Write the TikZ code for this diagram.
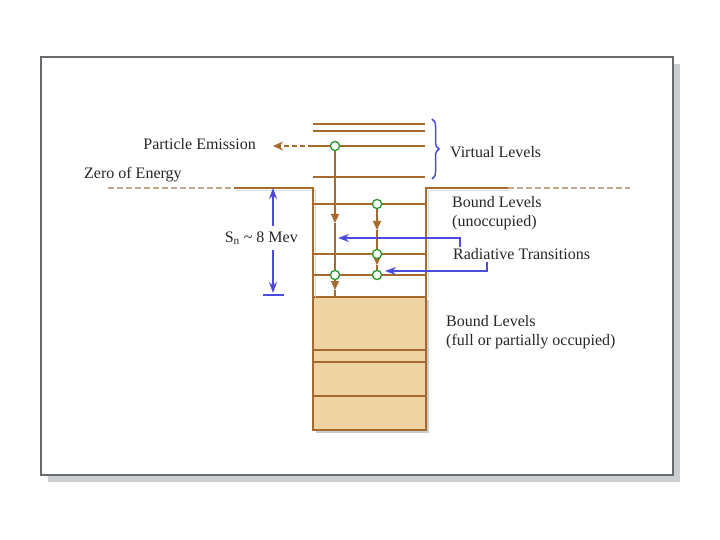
\documentclass[tikz,border=0pt]{standalone}
\usepackage{fontspec}
\setmainfont{Liberation Serif}
\usetikzlibrary{arrows.meta,decorations.pathreplacing}
\definecolor{brn}{HTML}{A66A2C}
\definecolor{tan}{HTML}{F0D3A2}
\definecolor{blu}{HTML}{4B4BE0}
\definecolor{grn}{HTML}{2E9A2E}
\definecolor{frm}{HTML}{676B70}
\definecolor{shd}{HTML}{CBCFD2}
\definecolor{dsh}{HTML}{BFA88C}
\tikzset{
  x=1pt, y=-1pt,
  lvl/.style={draw=brn, line width=1.5pt},
  dot/.style={circle, draw=grn, fill=white, line width=1.2pt, inner sep=0pt, minimum size=9pt},
  brarrow/.style={draw=brn, line width=1.3pt, -{Triangle[length=9pt,width=8pt]}},
  bluarrow/.style={draw=blu, line width=1.5pt, -{Stealth[length=11pt,width=8pt]}},
  lbl/.style={font=\fontsize{16}{19}\selectfont, text=black!85, inner sep=0pt},
  zeroline/.style={draw=dsh, dashed, dash pattern=on 6pt off 3pt, line width=1.1pt}
}
\begin{document}
\begin{tikzpicture}
\useasboundingbox (0,0) rectangle (720,540);
% frame
\fill[shd] (48,64) rectangle (680,482);
\filldraw[fill=white, draw=frm, line width=2pt] (41,57) rectangle (673,475);
% zero of energy dashed lines
\draw[zeroline] (108,188) -- (234,188);
\draw[zeroline] (508,188) -- (630,188);
% filled bound levels
\fill[black!20] (315.5,299.5) rectangle (428.5,432.5);
\filldraw[fill=tan, draw=brn, line width=1.5pt] (313,297) rectangle (426,430);
\draw[lvl] (313,350) -- (426,350);
\draw[lvl] (313,362) -- (426,362);
\draw[lvl] (313,396) -- (426,396);
% well outline
\draw[black!15, line width=1.5pt] (236,190.5) -- (315.5,190.5) -- (315.5,297);
\draw[black!15, line width=1.5pt] (428.5,297) -- (428.5,190.5) -- (510,190.5);
\draw[lvl] (234,188) -- (313,188) -- (313,297);
\draw[lvl] (426,297) -- (426,188) -- (508,188);
% virtual levels
\foreach \y in {124,131,146,177} \draw[lvl] (313,\y) -- (425,\y);
% bound unoccupied levels
\foreach \y in {204,254,275} \draw[lvl] (313,\y) -- (426,\y);
% circles
\node[dot] (c1) at (335,146) {};
\node[dot] (c2) at (377,204) {};
\node[dot] (c3) at (377,254) {};
\node[dot] (c4) at (377,275) {};
\node[dot] (c5) at (335,275) {};
\coordinate (a1) at (335,223);
\coordinate (a2) at (335,290);
\coordinate (a3) at (335,297);
\coordinate (b1) at (377,230);
\coordinate (b2) at (377,265);
% transitions
\draw[brarrow] (c1) -- (a1);
\draw[draw=brn, line width=1.3pt] (a1) -- (c5);
\draw[brarrow] (c5) -- (a2);
\draw[draw=brn, line width=1.3pt] (a2) -- (a3);
\draw[brarrow] (c2) -- (b1);
\draw[draw=brn, line width=1.3pt] (b1) -- (c3);
\draw[brarrow] (c3) -- (b2);
\draw[draw=brn, line width=1.3pt] (b2) -- (c4);
\node[dot] at (335,146) {};
\node[dot] at (377,204) {};
\node[dot] at (377,254) {};
\node[dot] at (377,275) {};
\node[dot] at (335,275) {};
% particle emission
\coordinate (pe0) at (313,146);
\coordinate (pe1) at (273,146);
\draw[draw=brn, line width=1.3pt, dashed, dash pattern=on 5pt off 3pt, -{Stealth[length=10pt,width=9pt]}] (pe0) -- (pe1);
\node[lbl, anchor=east] (pe) at (256,144) {Particle Emission};
\node[lbl, anchor=west] (ze) at (84,175) {Zero of Energy};
% Sn arrow
\coordinate (s1) at (273,188);
\coordinate (s2) at (273,293);
\draw[draw=blu, line width=1.5pt, {Stealth[length=11pt,width=8pt]}-{Stealth[length=11pt,width=8pt]}] (s1) -- (s2);
\draw[draw=blu, line width=1.6pt] (263,295) -- (284,295);
\node[lbl, anchor=east, fill=white, inner xsep=1pt, inner ysep=5pt] (sn) at (299,238) {S\textsubscript{n} \textasciitilde\ 8 Mev};
% brace
\draw[blu, line width=1.5pt, decorate, decoration={brace, amplitude=7pt}] (432,119) -- (432,179);
\node[lbl, anchor=west] (vl) at (450,152) {Virtual Levels};
\node[lbl, anchor=north west, align=left] (bu) at (452,196) {Bound Levels\\(unoccupied)};
\node[lbl, anchor=west] (rt) at (453,254) {Radiative Transitions};
\node[lbl, anchor=north west, align=left] (bf) at (446,315) {Bound Levels\\(full or partially occupied)};
% radiative arrows
\coordinate (r1) at (460,247);
\coordinate (r1t) at (338,238);
\coordinate (r2) at (487,262);
\coordinate (r2t) at (385,271);
\draw[bluarrow] (r1) |- (r1t);
\draw[bluarrow] (r2) |- (r2t);
\end{tikzpicture}
\end{document}
